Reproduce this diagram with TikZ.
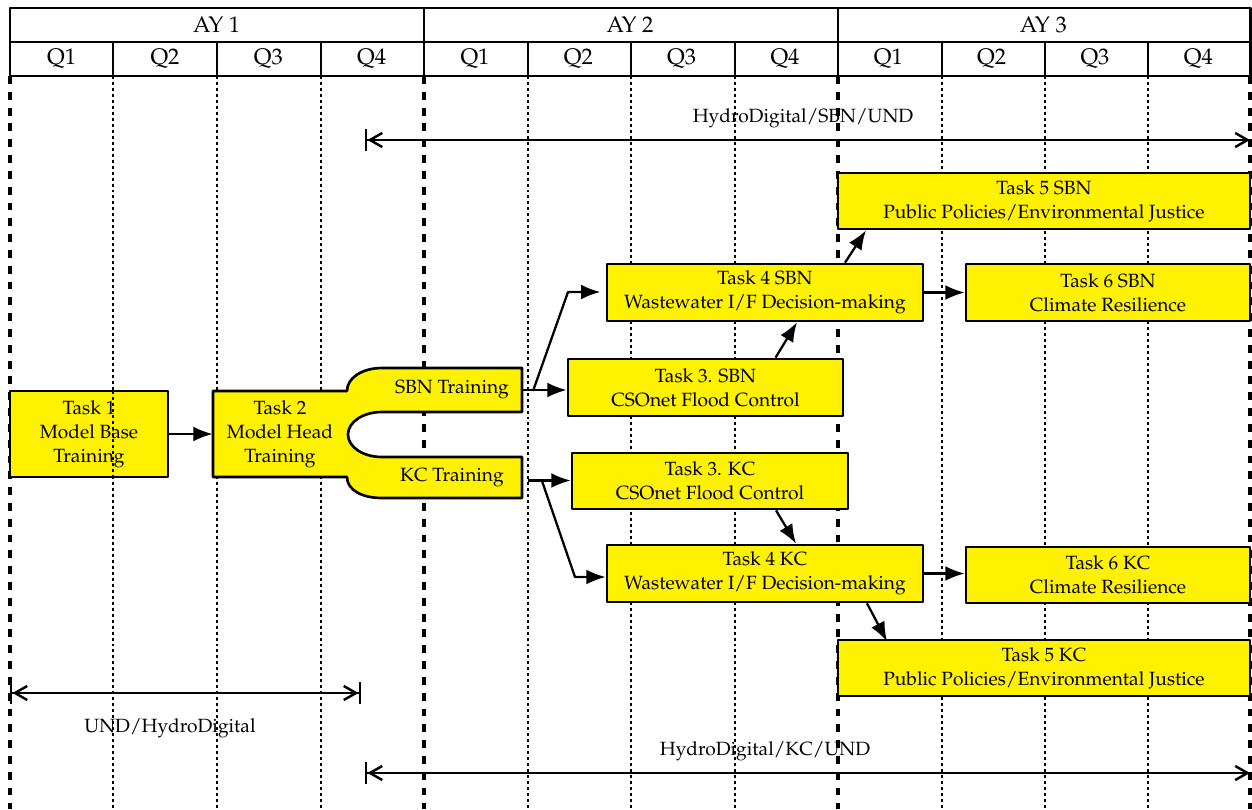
\documentclass[tikz,border=0pt]{standalone}
\usepackage[T1]{fontenc}
\usepackage{mathpazo}
\usetikzlibrary{arrows.meta,fit,calc}

\begin{document}
\begin{tikzpicture}[x=0.02cm,y=-0.02cm,line join=round,
  font=\fontsize{10.9}{13.6}\selectfont,
  head/.style={font=\fontsize{12.8}{15}\selectfont},
  task/.style={draw,fill=yellow,line width=1.5pt,inner sep=0pt},
  plain/.style={inner sep=0pt},
  lab/.style={align=center,inner sep=0pt},
  flow/.style={-{Latex[length=11pt,width=8.5pt]},line width=1.3pt},
  span/.style={line width=1.4pt},
  yeardiv/.style={line width=2pt,dash pattern=on 4.5pt off 4.5pt},
  qdiv/.style={line width=0.7pt,dash pattern=on 1.7pt off 1.7pt}]
\useasboundingbox (0,0) rectangle (1252,809);

\foreach \x in {10,424,838,1250} \draw[yeardiv] (\x,76) -- (\x,809);
\foreach \x in {113,217,321,528,631,735,942,1045,1148} \draw[qdiv] (\x,76) -- (\x,809);

\draw[line width=1.7pt] (10,8) rectangle (1250,76);
\draw[line width=1.1pt] (10,42) -- (1250,42);
\foreach \x in {424,838} \draw[line width=1.7pt] (\x,8) -- (\x,76);
\foreach \x in {113,217,321,528,631,735,942,1045,1148} \draw[line width=0.9pt] (\x,42) -- (\x,76);
\foreach \y in {1,2,3} \node[head] (ay\y) at ({10+(\y-0.5)*413.33},25) {AY \y};
\foreach \k in {0,...,11} {
  \pgfmathtruncatemacro\q{mod(\k,4)+1}
  \node[head] (q\k) at ({10+(\k+0.5)*103.33},59) {Q\q};
}

\coordinate (sbnL) at (365,140);
\coordinate (sbnR) at (1250,140);
\draw[span,{Bar[width=12pt]Straight Barb[length=7pt,width=8pt]}-{Straight Barb[length=7pt,width=8pt]}] (sbnL) -- (sbnR);
\node (sbnlab) at (803,118) {HydroDigital/SBN/UND};

\coordinate (undL) at (10,693);
\coordinate (undR) at (361,693);
\draw[span,{Bar[width=12pt]Straight Barb[length=7pt,width=8pt]}-{Straight Barb[length=7pt,width=8pt]Bar[width=12pt]}] (undL) -- (undR);
\node (undlab) at (170,728) {UND/HydroDigital};

\coordinate (kcL) at (365,773);
\coordinate (kcR) at (1250,773);
\draw[span,{Bar[width=12pt]Straight Barb[length=7pt,width=8pt]}-{Straight Barb[length=7pt,width=8pt]}] (kcL) -- (kcR);
\node (kclab) at (765,751) {HydroDigital/KC/UND};

\node[task,fit={(10,391) (168,477)},label={[lab]center:{Task 1\\Model Base\\Training}}] (t1) {};
\draw[qdiv] (113,391) -- (113,477);

\draw[fill=yellow,line width=1.5pt] (213,391) -- (347,391) .. controls (347,378) and (362,368) .. (382,368)
  -- (522,368) -- (522,412) -- (382,412) .. controls (363,412) and (348,422) .. (348,434.5)
  .. controls (348,447) and (363,457) .. (382,457) -- (522,457) -- (522,498) -- (382,498)
  .. controls (362,498) and (347,490) .. (347,477) -- (213,477) -- cycle;
\node[plain,fit={(213,391) (347,477)},label={[lab]center:{Task 2\\Model Head\\Training}}] (t2) {};
\node[plain,fit={(382,368) (522,412)},label={[lab]center:SBN Training}] (sbntr) {};
\node[plain,fit={(382,457) (522,498)},label={[lab]center:KC Training}] (kctr) {};

\node[task,fit={(568,359) (843,416)},label={[lab]center:{Task 3. SBN\\CSOnet Flood Control}}] (t3s) {};
\node[task,fit={(607,264) (923,321)},label={[lab]center:{Task 4 SBN\\Wastewater I/F Decision-making}}] (t4s) {};
\node[task,fit={(838,173) (1250,229)},label={[lab]center:{Task 5 SBN\\Public Policies/Environmental Justice}}] (t5s) {};
\node[task,fit={(966,264) (1250,321)},label={[lab]center:{Task 6 SBN\\Climate Resilience}}] (t6s) {};
\node[task,fit={(572,453) (848,509)},label={[lab]center:{Task 3. KC\\CSOnet Flood Control}}] (t3k) {};
\node[task,fit={(607,545) (923,602)},label={[lab]center:{Task 4 KC\\Wastewater I/F Decision-making}}] (t4k) {};
\node[task,fit={(966,547) (1250,603)},label={[lab]center:{Task 6 KC\\Climate Resilience}}] (t6k) {};
\node[task,fit={(838,640) (1250,696)},label={[lab]center:{Task 5 KC\\Public Policies/Environmental Justice}}] (t5k) {};

\draw[flow] (t1) -- (t2);
\draw[flow] (sbntr.east) -- (sbntr.east -| t3s.west);
\coordinate (sbnfork) at (533,391);
\coordinate (sbnbend) at (568,292);
\draw[flow,shorten >=3pt] (sbnfork) -- (sbnbend) -- (sbnbend -| t4s.west);
\draw[flow] ($(kctr.east)+(6,3)$) -- ($(kctr.east -| t3k.west)+(0,3)$);
\coordinate (kcfork) at (542,481);
\coordinate (kcbend) at (575,577);
\draw[flow] (kcfork) -- (kcbend) -- (kcbend -| t4k.west);
\draw[flow] ($(t3s.north)+(70,0)$) -- ($(t4s.south)+(32,0)$);
\draw[flow] ($(t4s.north)+(80,0)$) -- ($(t5s.south)+(-178,0)$);
\draw[flow] (t4s) -- (t6s);
\draw[flow] ($(t3k.south)+(66,0)$) -- ($(t4k.north)+(31,0)$);
\draw[flow] (t4k.east) -- (t4k.east -| t6k.west);
\draw[flow] ($(t4k.south)+(102,0)$) -- ($(t5k.south)+(-157,-56)$);
\end{tikzpicture}
\end{document}
